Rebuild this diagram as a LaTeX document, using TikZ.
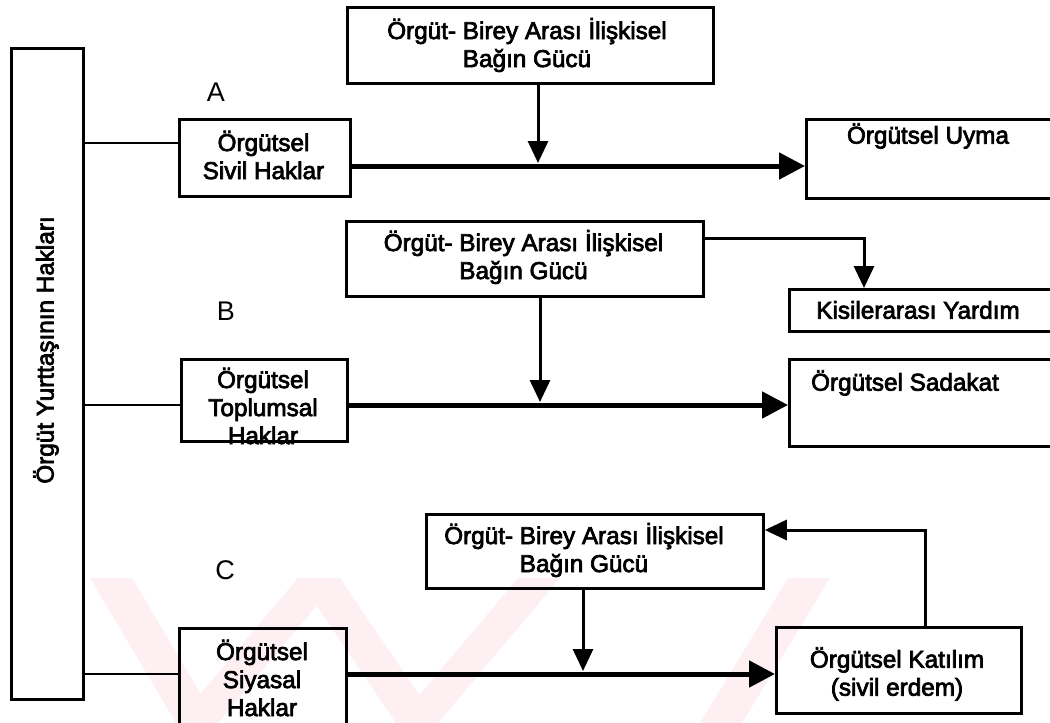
\documentclass[tikz,border=0pt]{standalone}
\usepackage{fontspec}
\setmainfont{Liberation Sans}
\newfontfamily\inkfont{Liberation Sans}[FakeBold=3]
\usetikzlibrary{arrows.meta}

\definecolor{stamp}{RGB}{254,240,242}

\tikzset{
  box/.style={draw, line width=2.8pt, inner sep=0pt, anchor=north west},
  txt/.style={inner sep=0pt, align=center, font=\inkfont\fontsize{24.3}{28}\selectfont},
  lbl/.style={inner sep=0pt, font=\fontsize{27}{30}\selectfont},
  link/.style={line width=2.8pt},
  flow/.style={line width=5pt, -{Triangle[length=26pt,width=26pt]}},
  moder/.style={line width=3pt, -{Triangle[length=22pt,width=20pt]}},
}

\newcommand{\boxat}[5]{% name, x1, y1, x2, y2
  \node[box, minimum width=#4pt-#2pt, minimum height=#5pt-#3pt] (#1) at (#2,#3) {};}

\begin{document}
\begin{tikzpicture}[x=1pt,y=-1pt]
\useasboundingbox (0,0) rectangle (1050,723);
\fill[white] (0,0) rectangle (1050,723);

% faint stamp stripes along the lower edge
\begin{scope}
\clip (0,578) rectangle (1050,723);
\fill[stamp] (90,578) -- (132,578) -- (218,723) -- (176,723) -- cycle;
\fill[stamp] (176,723) -- (218,723) -- (340,578) -- (298,578) -- cycle;
\fill[stamp] (298,578) -- (340,578) -- (438,723) -- (396,723) -- cycle;
\fill[stamp] (396,723) -- (438,723) -- (560,578) -- (518,578) -- cycle;
\fill[stamp] (700,723) -- (742,723) -- (830,578) -- (788,578) -- cycle;
\end{scope}

% left column
\boxat{rights}{10}{47}{82}{698}
\node[txt, rotate=90] (rightsT) at (46,350) {Örgüt Yurttaşının Hakları};

% ---------- A ----------
\node[lbl] (labA) at (216,92) {A};
\boxat{modA}{346}{6}{712}{82}
\node[txt] (modAT) at (527,45) {Örgüt- Birey Arası İlişkisel\\Bağın Gücü};
\node[txt] (inAT) at (263.5,155) {Örgütsel\\Sivil Haklar};
\boxat{inA}{178}{118}{349}{195}
\boxat{outA}{805}{118}{1070}{197}
\node[txt] (outAT) at (928,136) {Örgütsel Uyma};
\coordinate (hitA) at (538,163);
\draw[link] (rights.east |- 0,143) -- (inA.west |- 0,143);
\draw[flow] (inA.east |- 0,166) -- (outA.west |- 0,166);
\draw[moder] (modA.south -| hitA) -- (hitA);

% ---------- B ----------
\node[lbl] (labB) at (226,311) {B};
\boxat{modB}{345}{220}{702}{295}
\node[txt] (modBT) at (523.5,257) {Örgüt- Birey Arası İlişkisel\\Bağın Gücü};
\boxat{helpB}{788}{288}{1070}{330}
\node[txt] (helpBT) at (918,310) {Kisilerarası Yardım};
\node[txt] (inBT) at (263,406) {Örgütsel\\Toplumsal\\Haklar};
\boxat{inB}{180}{358}{346}{440}
\boxat{outB}{788}{358}{1070}{445}
\node[txt] (outBT) at (905,383) {Örgütsel Sadakat};
\coordinate (hitB) at (540,402);
\draw[link] (rights.east |- 0,405) -- (inB.west |- 0,405);
\draw[flow] (inB.east |- 0,405) -- (outB.west |- 0,405);
\draw[moder] (modB.south -| hitB) -- (hitB);
\draw[moder] (modB.east |- 0,238) -| (helpB.north -| 864,0);

% ---------- C ----------
\node[lbl] (labC) at (225,570) {C};
\boxat{modC}{425}{513}{762}{587}
\node[txt] (modCT) at (584,550) {Örgüt- Birey Arası İlişkisel\\Bağın Gücü};
\node[txt] (inCT) at (262,678) {Örgütsel\\Siyasal\\Haklar};
\boxat{inC}{178}{627}{345}{740}
\boxat{outC}{775}{626}{1020}{712}
\node[txt] (outCT) at (897,674) {Örgütsel Katılım\\(sivil erdem)};
\coordinate (hitC) at (583,671);
\draw[link] (rights.east |- 0,674) -- (inC.west |- 0,674);
\draw[flow] (inC.east |- 0,674) -- (outC.west |- 0,674);
\draw[moder] (modC.south -| hitC) -- (hitC);
\draw[moder] (outC.north -| 925,0) |- (modC.east |- 0,530);
\end{tikzpicture}
\end{document}
